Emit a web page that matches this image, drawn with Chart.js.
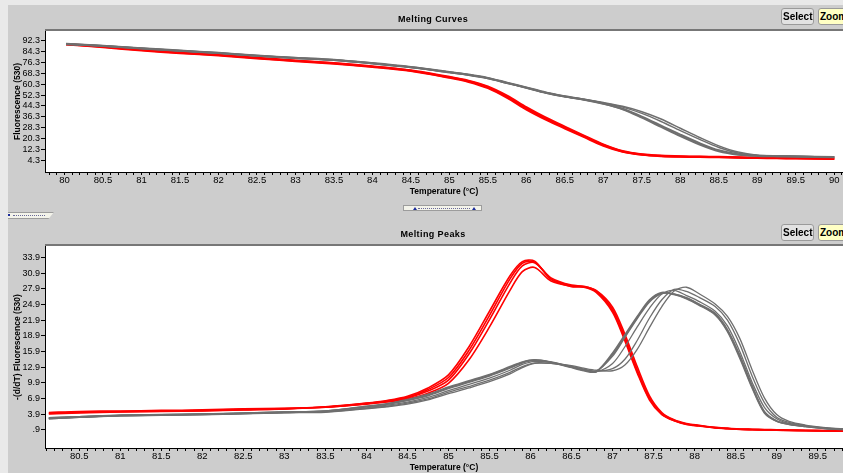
<!DOCTYPE html>
<html><head><meta charset="utf-8">
<script src="https://cdn.jsdelivr.net/npm/chart.js@4/dist/chart.umd.min.js"></script>
<style>
html,body{margin:0;padding:0;width:843px;height:473px;overflow:hidden;background:#cdcdcd;}
#wrap{position:relative;width:843px;height:473px;overflow:hidden;}
.lt{position:absolute;background:#e9e9e9;}
.ttl{position:absolute;font:bold 9px "Liberation Sans",Arial,sans-serif;letter-spacing:0.4px;color:#000;transform:translate(-50%,-50%);white-space:nowrap;z-index:3}
.btn{position:absolute;height:17px;border:1px solid #9a9a9a;border-radius:3px;font:bold 10px "Liberation Sans",Arial,sans-serif;line-height:15px;padding:0 1px;box-sizing:border-box;color:#000;z-index:3;white-space:nowrap}
canvas{position:absolute;left:0;z-index:1}
.deco{position:absolute;z-index:3}
</style></head>
<body><div id="wrap">
<div class="lt" style="left:0;top:0;width:843px;height:5px"></div>
<div class="lt" style="left:0;top:0;width:8px;height:473px"></div>
<div class="ttl" style="left:433px;top:19px">Melting Curves</div>
<div class="ttl" style="left:433px;top:234px">Melting Peaks</div>
<div class="btn" style="left:781px;top:8px;width:33px;background:#e2e2e2">Select</div>
<div class="btn" style="left:818px;top:8px;width:42px;background:#ffffc4">Zoom</div>
<div class="btn" style="left:781px;top:224px;width:33px;background:#e2e2e2">Select</div>
<div class="btn" style="left:818px;top:224px;width:42px;background:#ffffc4">Zoom</div>
<div class="deco" style="left:403px;top:205px;width:79px;height:6px;background:#f3f3ea;border:1px solid #9c9c9c;box-sizing:border-box"></div>
<div class="deco" style="left:413px;top:207px;width:0;height:0;border-left:2px solid transparent;border-right:2px solid transparent;border-bottom:3px solid #1a2a9a"></div>
<div class="deco" style="left:472px;top:207px;width:0;height:0;border-left:2px solid transparent;border-right:2px solid transparent;border-bottom:3px solid #1a2a9a"></div>
<div class="deco" style="left:418px;top:208px;width:52px;height:0;border-top:1px dotted #6a6a9a"></div>
<div class="deco" style="left:8px;top:212px;width:46px;height:7px;background:#f3f3ea;border-top:1px solid #9c9c9c;border-bottom:1px solid #9c9c9c;box-sizing:border-box;clip-path:polygon(0 0,100% 0,88% 100%,0 100%)"></div>
<div class="deco" style="left:8px;top:214px;width:2px;height:2px;background:#1a2a9a"></div>
<div class="deco" style="left:13px;top:215px;width:32px;height:0;border-top:1px dotted #6a6a9a"></div>
<canvas id="c1" width="843" height="205" style="top:0"></canvas>
<canvas id="c2" width="843" height="268" style="top:205px"></canvas>
</div>
<script>
// ---------- Melting Curves (top) ----------
const tempsTop = [80.02, 80.5, 81, 81.5, 82, 82.5, 83, 83.5, 84, 84.5, 85, 85.25, 85.5, 85.75, 86, 86.25, 86.5, 86.75, 87, 87.25, 87.5, 87.75, 88, 88.25, 88.5, 88.75, 89, 89.25, 89.5, 90];
const curveRed1 = [89.9, 87.9, 85.5, 83.5, 81.8, 79.6, 77.6, 75.7, 73.3, 70.3, 65.4, 62.5, 58.0, 51.0, 42.5, 35.0, 28.3, 21.8, 15.4, 10.7, 8.4, 7.4, 6.9, 6.7, 6.5, 6.2, 6.0, 5.8, 5.6, 5.3];
const curveRed2 = [89.6, 87.6, 85.2, 83.2, 81.5, 79.3, 77.3, 75.4, 73.0, 70.0, 65.0, 62.0, 57.4, 50.2, 41.6, 34.2, 27.6, 21.2, 14.9, 10.4, 8.2, 7.2, 6.7, 6.5, 6.3, 6.0, 5.8, 5.6, 5.4, 5.1];
const curveRed3 = [90.0, 88.1, 85.8, 83.8, 82.1, 79.9, 77.9, 76.0, 73.6, 70.6, 65.8, 62.9, 58.6, 51.8, 43.4, 35.8, 29.0, 22.4, 15.9, 11.0, 8.6, 7.6, 7.1, 6.9, 6.7, 6.4, 6.2, 6.0, 5.8, 5.5];
const curveGray1 = [89.9, 88.6, 86.7, 85.0, 83.3, 81.3, 79.6, 78.2, 75.7, 72.8, 69.1, 67.2, 64.7, 61.2, 57.7, 54.0, 51.2, 48.9, 45.8, 41.8, 35.6, 28.8, 22.0, 15.8, 10.8, 8.3, 7.4, 7.1, 6.9, 6.4];
const curveGray2 = [90.1, 88.8, 86.9, 85.2, 83.5, 81.5, 79.8, 78.4, 75.9, 73.0, 69.4, 67.5, 65.0, 61.5, 58.0, 54.3, 51.5, 49.1, 46.1, 42.2, 36.4, 29.8, 23.1, 16.8, 11.5, 8.7, 7.6, 7.2, 7.0, 6.5];
const curveGray3 = [89.8, 88.5, 86.6, 84.9, 83.2, 81.2, 79.5, 78.0, 75.5, 72.6, 68.9, 67.0, 64.5, 61.0, 57.5, 53.9, 51.1, 48.9, 46.5, 43.4, 38.8, 32.8, 26.0, 19.6, 13.6, 9.5, 7.7, 7.3, 7.0, 6.5];
const curveGray4 = [90.0, 88.7, 86.8, 85.1, 83.4, 81.4, 79.7, 78.3, 75.8, 72.9, 69.2, 67.3, 64.8, 61.3, 57.8, 54.2, 51.3, 49.2, 46.8, 44.0, 40.0, 34.6, 27.8, 21.0, 14.8, 10.2, 7.9, 7.4, 7.1, 6.6];
const yTicksTop = [4.3, 12.3, 20.3, 28.3, 36.3, 44.3, 52.3, 60.3, 68.3, 76.3, 84.3, 92.3];
const yTickLabelsTop = ['4.3', '12.3', '20.3', '28.3', '36.3', '44.3', '52.3', '60.3', '68.3', '76.3', '84.3', '92.3'];
const xTicksTop = [80, 80.5, 81, 81.5, 82, 82.5, 83, 83.5, 84, 84.5, 85, 85.5, 86, 86.5, 87, 87.5, 88, 88.5, 89, 89.5, 90];
const xTickLabelsTop = ['80', '80.5', '81', '81.5', '82', '82.5', '83', '83.5', '84', '84.5', '85', '85.5', '86', '86.5', '87', '87.5', '88', '88.5', '89', '89.5', '90'];

// ---------- Melting Peaks (bottom) ----------
const tempsBottom = [80.13, 80.5, 81, 81.5, 82, 82.5, 83, 83.5, 84, 84.25, 84.5, 84.75, 85, 85.25, 85.5, 85.75, 85.9, 86.05, 86.25, 86.5, 86.65, 86.8, 87, 87.15, 87.3, 87.45, 87.6, 87.75, 87.9, 88.05, 88.25, 88.4, 88.55, 88.7, 88.85, 89, 89.15, 89.35, 89.6, 89.85];
const peakRed1 = [4.1, 4.3, 4.4, 4.5, 4.6, 4.8, 4.95, 5.2, 5.9, 6.3, 7.0, 8.3, 10.4, 15.4, 22.0, 29.0, 32.3, 32.9, 30.0, 28.6, 28.4, 27.5, 24.0, 18.6, 12.4, 7.0, 4.0, 2.7, 2.0, 1.7, 1.3, 1.15, 1.0, 0.95, 0.9, 0.85, 0.8, 0.75, 0.7, 0.65];
const peakRed2 = [3.9, 4.1, 4.3, 4.4, 4.5, 4.7, 4.9, 5.3, 6.0, 6.5, 7.3, 8.9, 11.4, 16.8, 23.6, 30.4, 33.1, 33.2, 29.7, 28.3, 28.2, 27.2, 23.4, 17.9, 11.8, 6.6, 3.8, 2.6, 1.9, 1.6, 1.25, 1.1, 0.95, 0.9, 0.85, 0.8, 0.75, 0.7, 0.65, 0.6];
const peakRed3 = [4.2, 4.4, 4.5, 4.6, 4.7, 4.9, 5.0, 5.2, 5.8, 6.2, 6.8, 7.9, 9.8, 14.3, 20.6, 27.6, 31.2, 32.0, 29.4, 28.4, 28.3, 27.6, 24.4, 19.2, 13.0, 7.4, 4.2, 2.8, 2.1, 1.75, 1.35, 1.2, 1.05, 1.0, 0.95, 0.9, 0.85, 0.8, 0.75, 0.7];
const peakRed4 = [4.0, 4.2, 4.35, 4.45, 4.55, 4.75, 4.9, 5.25, 5.95, 6.4, 7.1, 8.6, 10.9, 16.1, 22.8, 29.8, 32.8, 33.0, 29.8, 28.5, 28.3, 27.4, 23.7, 18.3, 12.1, 6.8, 3.9, 2.65, 1.95, 1.65, 1.28, 1.12, 0.98, 0.92, 0.88, 0.82, 0.78, 0.72, 0.68, 0.62];
const peakGray1 = [3.2, 3.4, 3.7, 3.8, 3.9, 4.1, 4.3, 4.5, 5.3, 5.8, 6.5, 7.4, 8.8, 10.0, 11.2, 12.7, 13.7, 14.2, 13.8, 12.8, 12.2, 12.0, 15.6, 19.1, 22.6, 25.8, 27.2, 26.8, 26.0, 24.8, 22.9, 19.7, 14.6, 8.9, 4.1, 2.5, 1.9, 1.5, 1.1, 0.9];
const peakGray2 = [3.0, 3.3, 3.6, 3.7, 3.85, 4.0, 4.2, 4.45, 5.4, 5.9, 6.7, 7.7, 9.1, 10.3, 11.5, 13.0, 13.9, 14.3, 13.9, 13.0, 12.4, 12.1, 15.0, 18.6, 22.2, 25.4, 27.0, 26.9, 26.2, 25.0, 23.2, 20.1, 15.2, 9.4, 4.4, 2.6, 2.0, 1.55, 1.15, 0.95];
const peakGray3 = [3.1, 3.35, 3.65, 3.75, 3.9, 4.05, 4.25, 4.5, 5.35, 5.85, 6.6, 7.55, 8.95, 10.15, 11.35, 12.85, 13.8, 14.25, 13.85, 12.9, 12.3, 12.05, 15.3, 18.8, 22.4, 25.6, 27.1, 26.85, 26.1, 24.9, 23.0, 19.9, 14.9, 9.1, 4.25, 2.55, 1.95, 1.52, 1.12, 0.92];
const peakGray4 = [3.2, 3.4, 3.65, 3.8, 3.9, 4.1, 4.3, 4.4, 5.1, 5.6, 6.2, 7.1, 8.4, 9.6, 10.8, 12.3, 13.4, 14.0, 13.8, 12.9, 12.3, 12.0, 13.6, 16.8, 20.6, 24.2, 26.9, 27.6, 26.6, 25.5, 23.6, 20.8, 15.9, 10.0, 5.2, 3.0, 2.1, 1.6, 1.2, 0.95];
const peakGray5 = [3.1, 3.3, 3.6, 3.7, 3.8, 4.0, 4.2, 4.3, 5.0, 5.4, 6.0, 6.8, 8.1, 9.2, 10.4, 11.9, 13.0, 13.7, 13.6, 13.0, 12.5, 12.1, 12.6, 14.4, 18.0, 22.3, 25.8, 27.8, 27.4, 26.3, 24.5, 21.9, 17.3, 11.2, 6.1, 3.3, 2.3, 1.7, 1.25, 1.0];
const peakGray6 = [3.0, 3.25, 3.55, 3.65, 3.75, 3.95, 4.15, 4.25, 4.9, 5.3, 5.8, 6.6, 7.8, 8.9, 10.1, 11.6, 12.8, 13.6, 13.6, 13.2, 12.7, 12.3, 12.2, 13.3, 16.3, 20.5, 24.5, 27.5, 28.2, 27.0, 25.0, 22.6, 18.4, 12.4, 7.0, 3.8, 2.5, 1.8, 1.3, 1.0];
const yTicksBottom = [0.9, 3.9, 6.9, 9.9, 12.9, 15.9, 18.9, 21.9, 24.9, 27.9, 30.9, 33.9];
const yTickLabelsBottom = ['.9', '3.9', '6.9', '9.9', '12.9', '15.9', '18.9', '21.9', '24.9', '27.9', '30.9', '33.9'];
const xTicksBottom = [80.5, 81, 81.5, 82, 82.5, 83, 83.5, 84, 84.5, 85, 85.5, 86, 86.5, 87, 87.5, 88, 88.5, 89, 89.5];
const xTickLabelsBottom = ['80.5', '81', '81.5', '82', '82.5', '83', '83.5', '84', '84.5', '85', '85.5', '86', '86.5', '87', '87.5', '88', '88.5', '89', '89.5'];

const RED = '#ff0000', GRAY = '#6f6f6f';
const SANS = '"Liberation Sans",Arial,sans-serif';

const plotBg = {
  id: 'plotBg',
  beforeDraw(chart) {
    const {ctx, chartArea: a} = chart;
    ctx.save();
    ctx.fillStyle = '#ffffff';
    ctx.fillRect(a.left, a.top, a.right - a.left, a.bottom - a.top);
    ctx.fillStyle = '#777777';
    ctx.fillRect(a.left, a.top - 2, a.right - a.left, 2);
    ctx.restore();
  }
};

function minorTicks(min, max) {
  const out = [];
  const start = Math.ceil(min * 10 - 1e-6);
  const end = Math.floor(max * 10 + 1e-6);
  for (let k = start; k <= end; k++) out.push({value: k / 10});
  return out;
}

function makeChart(id, cfg) {
  const series = cfg.series.map(s => ({
    data: cfg.temps.map((t, i) => ({x: t, y: s.values[i]})),
    borderColor: s.color,
    borderWidth: s.width,
    pointRadius: 0,
    fill: false,
    tension: 0.3
  }));
  return new Chart(document.getElementById(id), {
    type: 'line',
    data: {datasets: series},
    plugins: [plotBg],
    options: {
      responsive: false, animation: false, devicePixelRatio: 1,
      layout: {padding: {top: cfg.padTop, left: 0, right: 0, bottom: 0}},
      plugins: {legend: {display: false}, tooltip: {enabled: false}, title: {display: false}},
      events: [],
      scales: {
        x: {
          type: 'linear', min: cfg.xMin, max: cfg.xMax,
          afterBuildTicks: sc => { sc.ticks = minorTicks(cfg.xMin, cfg.xMax); },
          afterFit: sc => { sc.height = cfg.xAxisHeight; },
          ticks: {
            autoSkip: false, maxRotation: 0, minRotation: 0, padding: 0, color: '#000',
            font: {family: SANS, size: 9.5},
            callback: v => { const i = cfg.xTicks.findIndex(t => Math.abs(t - v) < 1e-6); return i >= 0 ? cfg.xLabels[i] : ''; }
          },
          grid: {display: true, drawOnChartArea: false, drawTicks: true, tickLength: 3, color: '#000'},
          border: {display: true, color: '#000', width: 1},
          title: {display: true, text: 'Temperature (°C)', color: '#000',
                  font: {family: SANS, size: 8.5, weight: 'bold'}, padding: {top: 0, bottom: cfg.xTitlePad}}
        },
        y: {
          type: 'linear', min: cfg.yMin, max: cfg.yMax,
          afterBuildTicks: sc => { sc.ticks = cfg.yTicks.map(v => ({value: v})); },
          afterFit: sc => { sc.width = 45; },
          ticks: {
            autoSkip: false, padding: 1, color: '#000',
            font: {family: SANS, size: 9},
            callback: v => { const i = cfg.yTicks.findIndex(t => Math.abs(t - v) < 1e-6); return i >= 0 ? cfg.yLabels[i] : ''; }
          },
          grid: {display: true, drawOnChartArea: false, drawTicks: true, tickLength: 4, color: '#000'},
          border: {display: true, color: '#000', width: 1},
          title: {display: true, text: cfg.yTitle, color: '#000',
                  font: {family: SANS, size: 8.5, weight: 'bold'}, padding: {top: 12.5, bottom: 0}}
        }
      }
    }
  });
}

makeChart('c1', {
  temps: tempsTop,
  series: [
    {values: curveGray1, color: GRAY, width: 2},
    {values: curveGray2, color: GRAY, width: 2},
    {values: curveGray3, color: GRAY, width: 1.5},
    {values: curveGray4, color: GRAY, width: 1.5},
    {values: curveRed1, color: RED, width: 2},
    {values: curveRed2, color: RED, width: 2},
    {values: curveRed3, color: RED, width: 2}
  ],
  xMin: 79.747, xMax: 90.113, yMin: -4.5, yMax: 99.6,
  xTicks: xTicksTop, xLabels: xTickLabelsTop,
  yTicks: yTicksTop, yLabels: yTickLabelsTop,
  yTitle: 'Fluorescence (530)',
  padTop: 31, xAxisHeight: 33, xTitlePad: 8.5
});

makeChart('c2', {
  temps: tempsBottom,
  series: [
    {values: peakGray1, color: GRAY, width: 1.5},
    {values: peakGray2, color: GRAY, width: 1.5},
    {values: peakGray3, color: GRAY, width: 1.5},
    {values: peakGray4, color: GRAY, width: 1.3},
    {values: peakGray5, color: GRAY, width: 1.3},
    {values: peakGray6, color: GRAY, width: 1.3},
    {values: peakRed1, color: RED, width: 1.6},
    {values: peakRed2, color: RED, width: 1.6},
    {values: peakRed3, color: RED, width: 1.6},
    {values: peakRed4, color: RED, width: 1.6}
  ],
  xMin: 80.083, xMax: 89.808, yMin: -2.6, yMax: 36.1,
  xTicks: xTicksBottom, xLabels: xTickLabelsBottom,
  yTicks: yTicksBottom, yLabels: yTickLabelsBottom,
  yTitle: '-(d/dT) Fluorescence (530)',
  padTop: 41, xAxisHeight: 25, xTitlePad: 0.5
});
</script>
</body></html>
